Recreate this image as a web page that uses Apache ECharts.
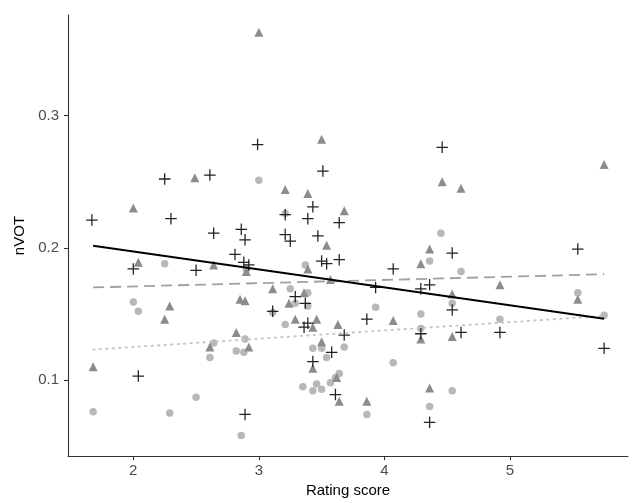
<!DOCTYPE html>
<html>
<head>
<meta charset="utf-8">
<script src="https://cdn.jsdelivr.net/npm/echarts@6/dist/echarts.min.js"></script>
<style>
html,body{margin:0;padding:0;background:#fff;}
#chart{width:636px;height:503px;}
</style>
</head>
<body>
<div id="chart"></div>
<script>
// Group A (light gray circles): [rating score, nVOT]
var circlePoints = [
  [3.00,0.251],[2.25,0.188],[2.90,0.184],[2.00,0.159],[2.04,0.152],[3.21,0.226],[3.37,0.187],
  [4.36,0.190],[4.45,0.211],[3.25,0.169],[3.39,0.166],[3.29,0.158],[3.39,0.156],[3.11,0.151],
  [3.93,0.155],[4.29,0.150],[3.21,0.142],[4.61,0.182],[4.54,0.158],[5.54,0.166],[5.75,0.149],
  [4.92,0.146],[4.29,0.139],[2.89,0.131],[2.64,0.128],[2.61,0.117],[2.82,0.122],[2.88,0.121],
  [2.50,0.087],[1.68,0.076],[2.29,0.075],[2.86,0.058],[3.43,0.124],[3.50,0.124],[3.68,0.125],
  [3.54,0.117],[4.07,0.113],[3.64,0.105],[3.61,0.102],[3.57,0.098],[3.35,0.095],[3.46,0.097],
  [3.43,0.092],[3.50,0.093],[3.86,0.074],[4.36,0.080],[4.54,0.092]
];
// Group B (gray triangles)
var trianglePoints = [
  [3.00,0.363],[3.50,0.282],[5.75,0.263],[2.49,0.253],[2.00,0.230],[3.21,0.244],[3.39,0.241],
  [4.46,0.250],[4.61,0.245],[3.68,0.228],[3.54,0.202],[4.36,0.199],[2.04,0.189],[2.64,0.187],
  [2.90,0.182],[3.39,0.184],[4.29,0.188],[3.57,0.176],[4.92,0.172],[3.11,0.169],[3.36,0.166],
  [3.24,0.158],[2.85,0.161],[2.89,0.160],[4.54,0.165],[5.54,0.161],[2.29,0.156],[2.25,0.146],
  [3.29,0.146],[3.46,0.146],[3.43,0.140],[3.63,0.142],[4.07,0.145],[4.29,0.131],[2.82,0.136],
  [2.61,0.125],[2.92,0.125],[1.68,0.110],[3.50,0.129],[3.43,0.109],[3.62,0.102],[3.64,0.084],
  [3.86,0.084],[4.36,0.094],[4.54,0.133]
];
// Group C (black plus signs)
var plusPoints = [
  [2.99,0.278],[4.46,0.276],[3.51,0.258],[2.25,0.252],[2.61,0.255],[1.67,0.221],[2.30,0.222],
  [3.43,0.231],[3.21,0.225],[3.39,0.222],[3.64,0.219],[2.64,0.211],[2.86,0.214],[2.89,0.206],
  [3.21,0.210],[3.25,0.205],[3.47,0.209],[5.54,0.199],[4.54,0.196],[2.81,0.195],[2.88,0.189],
  [2.92,0.187],[2.00,0.184],[2.50,0.183],[3.50,0.190],[3.54,0.188],[3.64,0.191],[4.07,0.184],
  [3.93,0.170],[4.29,0.169],[4.36,0.172],[3.29,0.163],[3.37,0.158],[3.11,0.152],[4.54,0.153],
  [3.86,0.146],[3.39,0.143],[3.36,0.140],[3.68,0.134],[4.29,0.135],[4.61,0.136],[4.92,0.136],
  [5.75,0.124],[2.04,0.103],[2.89,0.074],[3.58,0.121],[3.43,0.114],[3.61,0.089],[4.36,0.068]
];
// Fitted trend lines (endpoints)
var trendCircle = [[1.68,0.123],[5.75,0.1485]];
var trendTriangle = [[1.68,0.170],[5.75,0.180]];
var trendPlus = [[1.68,0.2015],[5.75,0.1463]];
// Axis ticks
var xTicks = [2,3,4,5];
var yTicks = [0.1,0.2,0.3];

var chart = echarts.init(document.getElementById('chart'), null, {renderer:'canvas'});
var plusPath = 'path://M4.45,0 H5.55 V4.45 H10 V5.55 H5.55 V10 H4.45 V5.55 H0 V4.45 H4.45 Z';
var axisLine = {show:true, lineStyle:{color:'#333333', width:1.1}};
var tickStyle = {show:true, length:4, lineStyle:{color:'#333333', width:1.1}};
chart.setOption({
  animation:false,
  backgroundColor:'#ffffff',
  grid:{left:68, right:8, top:15, bottom:41, containLabel:false},
  xAxis:{
    type:'value', min:1.48, max:5.94,
    name:'Rating score', nameLocation:'middle', nameGap:25,
    nameTextStyle:{fontFamily:'Liberation Sans, Arial, sans-serif', fontSize:15, color:'#000'},
    axisLine:axisLine,
    axisTick:Object.assign({customValues:xTicks}, tickStyle),
    axisLabel:{customValues:xTicks, margin:7, fontFamily:'Liberation Sans, Arial, sans-serif', fontSize:15, color:'#4d4d4d'},
    splitLine:{show:false}
  },
  yAxis:{
    type:'value', min:0.0425, max:0.376,
    name:'nVOT', nameLocation:'middle', nameGap:41, nameRotate:90,
    nameTextStyle:{fontFamily:'Liberation Sans, Arial, sans-serif', fontSize:15, color:'#000'},
    axisLine:axisLine,
    axisTick:Object.assign({customValues:yTicks}, tickStyle),
    axisLabel:{customValues:yTicks, margin:9, fontFamily:'Liberation Sans, Arial, sans-serif', fontSize:15, color:'#4d4d4d',
      formatter:function(v){return v.toFixed(1);}},
    splitLine:{show:false}
  },
  series:[
    {type:'scatter', name:'A', data:circlePoints, symbol:'circle', symbolSize:7.5,
      itemStyle:{color:'#b8b8b8', opacity:1}, z:2},
    {type:'scatter', name:'B', data:trianglePoints, symbol:'triangle', symbolSize:9,
      itemStyle:{color:'#8c8c8c', opacity:1}, z:3},
    {type:'scatter', name:'C', data:plusPoints, symbol:plusPath, symbolSize:11.5,
      itemStyle:{color:'#222222', opacity:1}, z:4},
    {type:'line', data:trendCircle, symbol:'none', silent:true, z:5,
      lineStyle:{color:'#c4c4c4', width:1.8, type:[1.5,5], cap:'round'}},
    {type:'line', data:trendTriangle, symbol:'none', silent:true, z:5,
      lineStyle:{color:'#a0a0a0', width:1.8, type:[11,6]}},
    {type:'line', data:trendPlus, symbol:'none', silent:true, z:6,
      lineStyle:{color:'#000000', width:1.9}}
  ]
});
</script>
</body>
</html>
